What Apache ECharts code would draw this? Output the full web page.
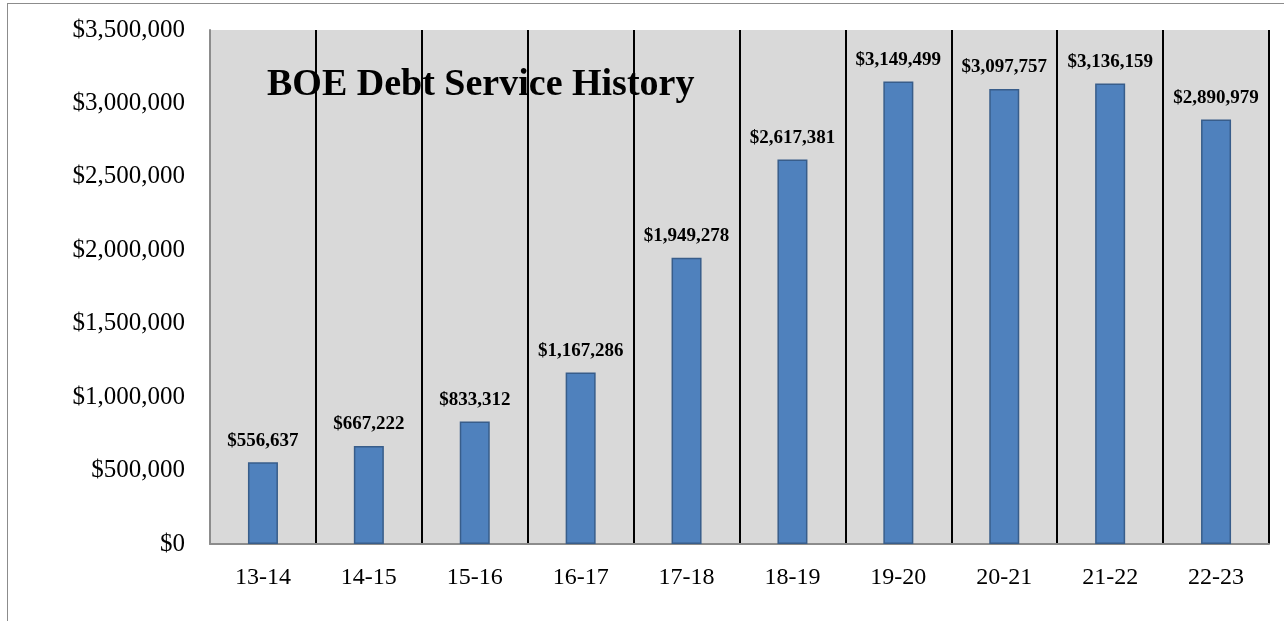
<!DOCTYPE html>
<html>
<head>
<meta charset="utf-8">
<script src="https://cdn.jsdelivr.net/npm/echarts@6/dist/echarts.min.js"></script>
<style>
  html, body { margin: 0; padding: 0; background: #fff; }
  #frame { position: absolute; left: 7px; top: 3px; width: 1290px; height: 640px; border-left: 1px solid #8c8c8c; border-top: 1px solid #8c8c8c; }
  #chart { width: 1284px; height: 621px; position: absolute; left: 0; top: 0; }
</style>
</head>
<body>
<div id="frame"></div>
<div id="chart"></div>
<script>
  var years = ['13-14', '14-15', '15-16', '16-17', '17-18', '18-19', '19-20', '20-21', '21-22', '22-23']
  var debtService = [556637, 667222, 833312, 1167286, 1949278, 2617381, 3149499, 3097757, 3136159, 2890979]
  var yTicks = [0, 500000, 1000000, 1500000, 2000000, 2500000, 3000000, 3500000]

  var serif = '"Liberation Serif", "DejaVu Serif", serif'
  function money (v) {
    return '$' + String(v).replace(/\B(?=(\d{3})+(?!\d))/g, ',')
  }

  var myChart = echarts.init(document.getElementById('chart'))
  var option = {
    animation: false,
    title: {
      text: 'BOE Debt Service History',
      left: 262,
      top: 61,
      textStyle: { fontFamily: serif, fontSize: 38, fontWeight: 'bold', color: '#000' }
    },
    grid: {
      left: 210,
      right: 15,
      top: 30,
      bottom: 77,
      show: true,
      backgroundColor: '#d9d9d9',
      borderWidth: 0
    },
    xAxis: {
      type: 'category',
      data: years,
      axisLine: { show: true, lineStyle: { color: '#8c8c8c', width: 2 } },
      axisTick: { show: false },
      axisLabel: { fontFamily: serif, fontSize: 24, color: '#000', margin: 22 },
      splitLine: {
        show: true,
        interval: 0,
        lineStyle: { color: '#000', width: 2 }
      }
    },
    yAxis: {
      type: 'value',
      min: yTicks[0],
      max: yTicks[yTicks.length - 1],
      interval: 500000,
      axisLine: { show: true, lineStyle: { color: '#8c8c8c', width: 2 } },
      axisTick: { show: false },
      splitLine: { show: false },
      axisLabel: {
        fontFamily: serif,
        fontSize: 25,
        color: '#000',
        margin: 25,
        formatter: function (v) { return money(v) }
      }
    },
    series: [{
      type: 'bar',
      data: debtService,
      barWidth: 30,
      itemStyle: { color: '#4f81bd', borderColor: '#385d8a', borderWidth: 1.5 },
      label: {
        show: true,
        position: 'top',
        distance: 12,
        fontFamily: serif,
        fontSize: 19,
        fontWeight: 'bold',
        color: '#000',
        formatter: function (p) { return money(p.value) }
      },
      z: 3
    }]
  }
  myChart.setOption(option)
</script>
</body>
</html>
